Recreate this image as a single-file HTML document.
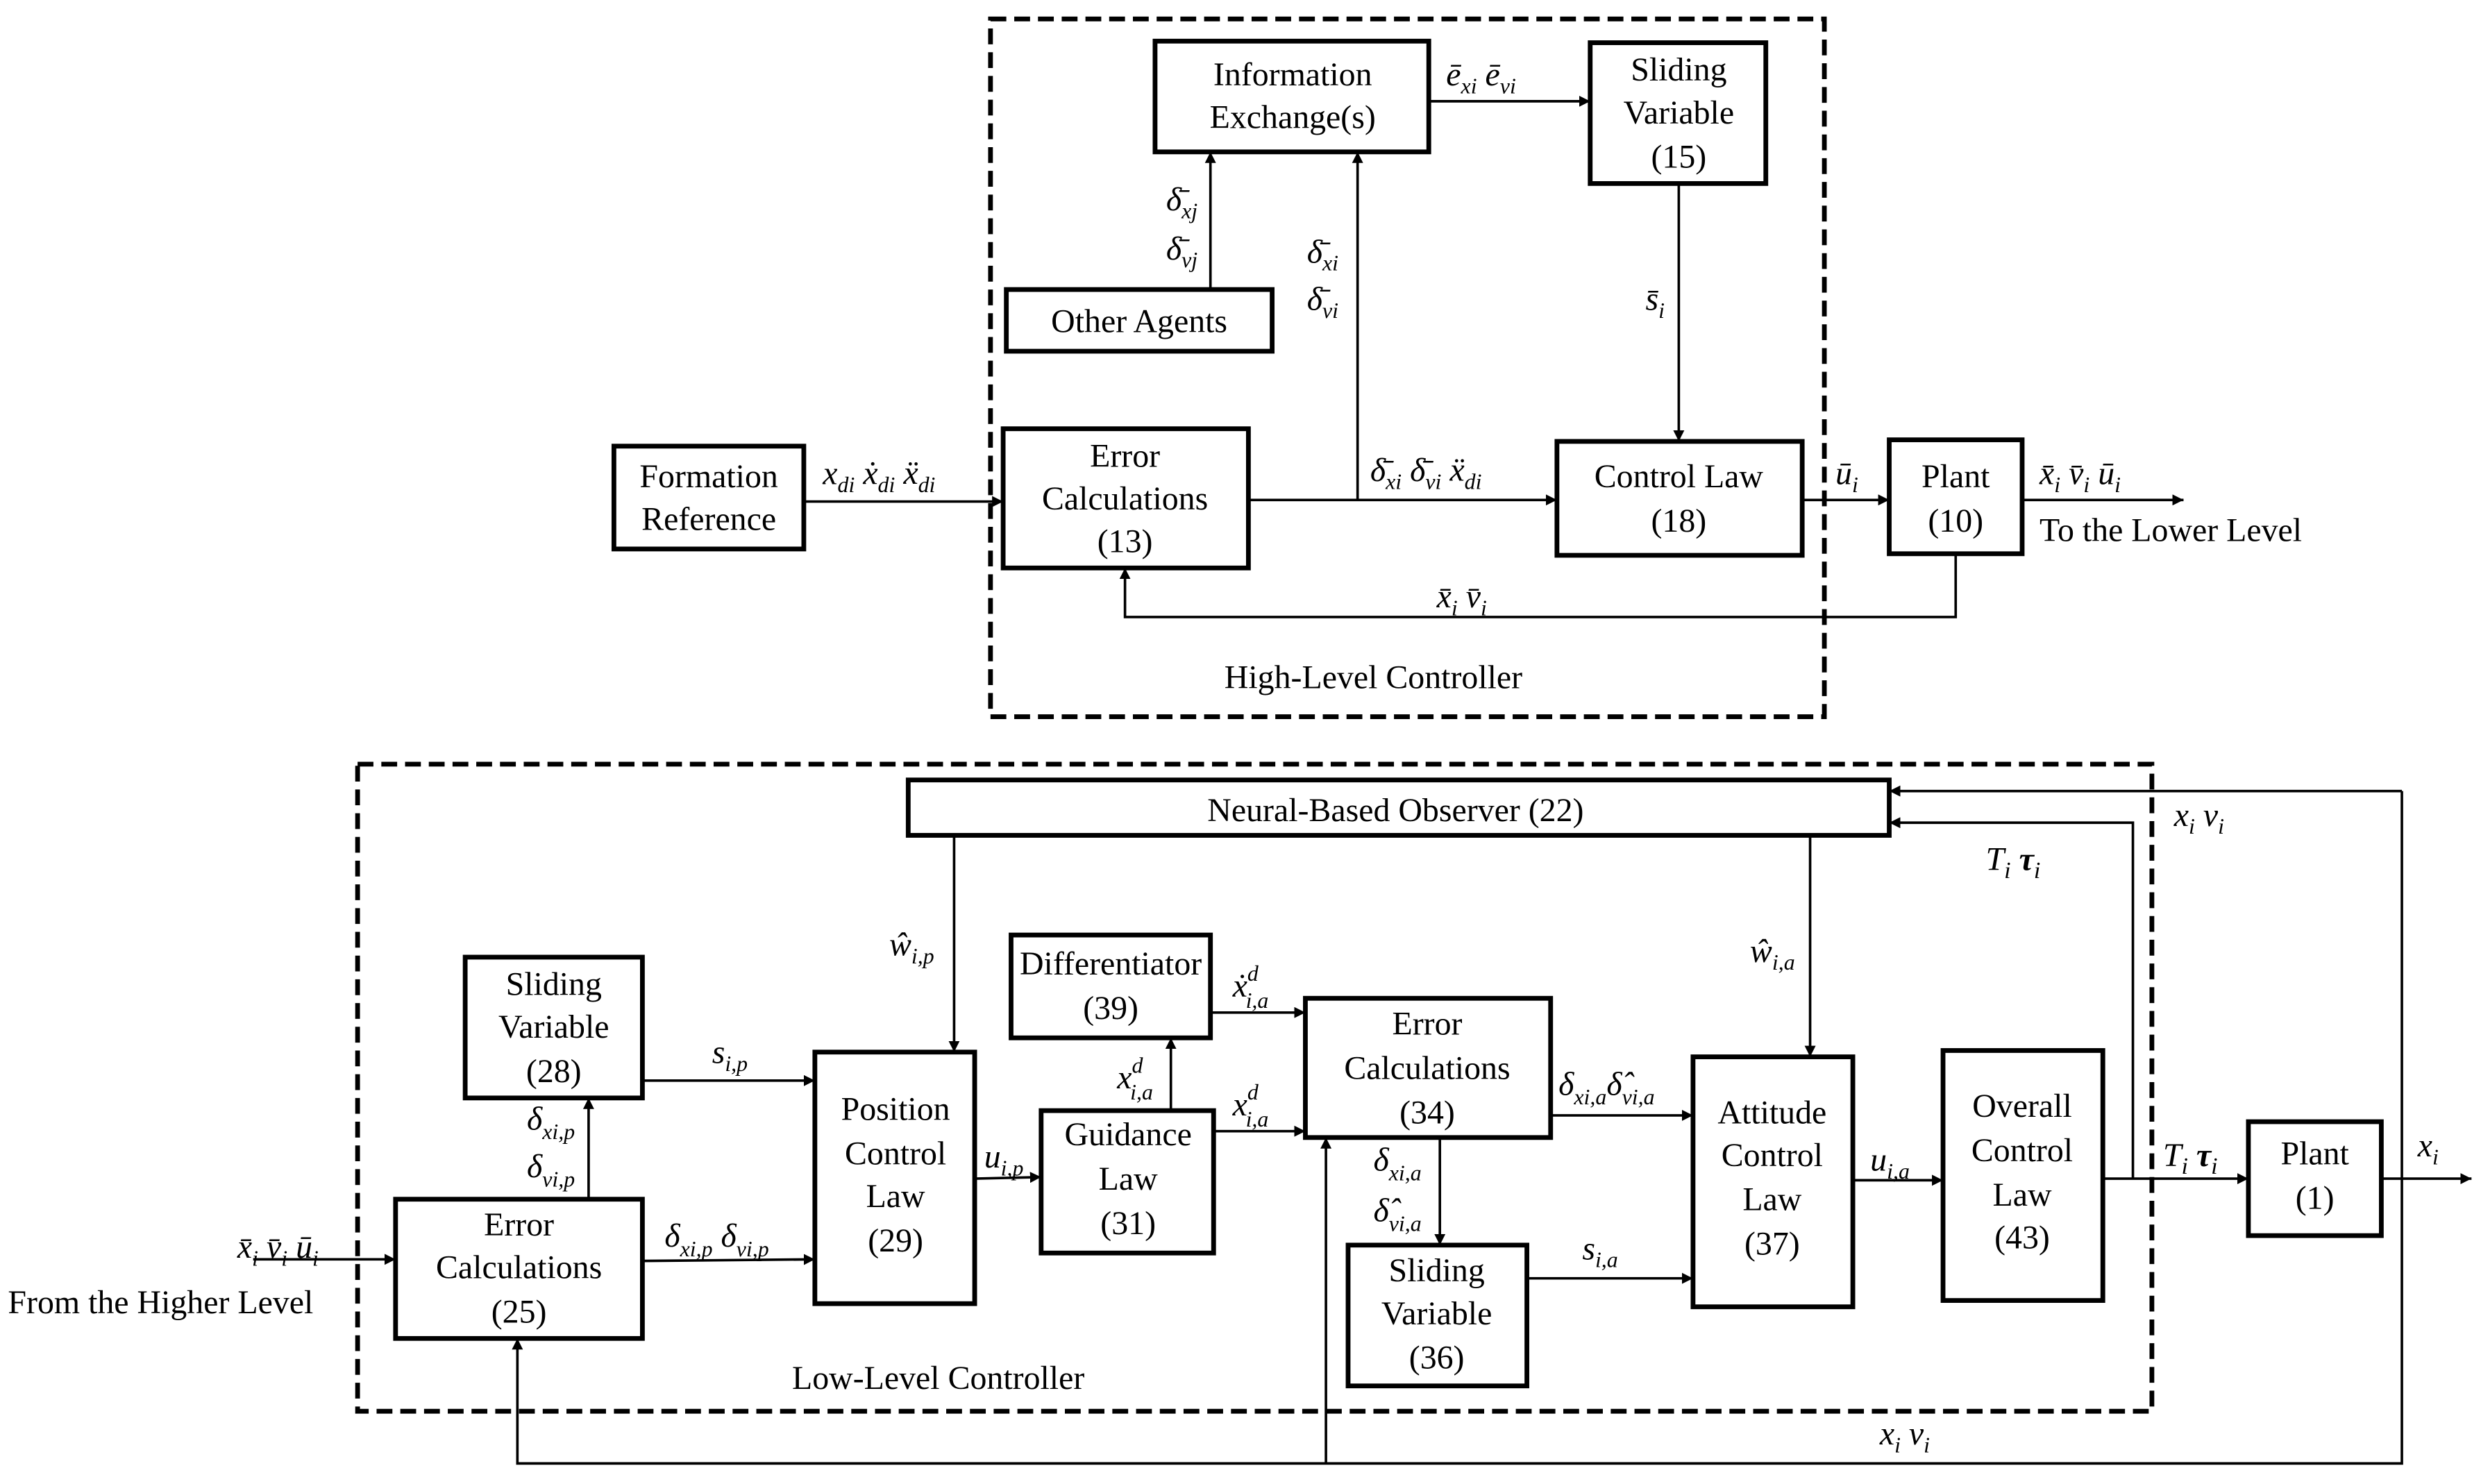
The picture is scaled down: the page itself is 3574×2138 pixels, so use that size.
<!DOCTYPE html>
<html><head><meta charset="utf-8"><style>
html,body{margin:0;padding:0;background:#fff;}
svg{display:block;}
text{font-family:"Liberation Serif",serif;font-size:21px;fill:#000;}
.m{font-style:italic;}
.b{fill:none;stroke:#000;stroke-width:3;}
.l{fill:none;stroke:#000;stroke-width:1.6;}
.d{fill:none;stroke:#000;stroke-width:3;stroke-dasharray:10,5;}
</style></head><body>
<svg width="3574" height="2138" viewBox="0 0 1568 938" preserveAspectRatio="none" xmlns="http://www.w3.org/2000/svg">
<defs><marker id="a" viewBox="0 0 10 10" refX="10" refY="5" markerWidth="7" markerHeight="7" orient="auto" markerUnits="userSpaceOnUse"><path d="M0,0 L10,5 L0,10 z" fill="#000"/></marker>
<marker id="A" viewBox="0 0 10 10" refX="10" refY="5" markerWidth="12" markerHeight="9" orient="auto" markerUnits="userSpaceOnUse"><path d="M0,0 L10,5 L0,10 z" fill="#000"/></marker></defs>

<!-- TOP -->
<rect class="d" x="626" y="12" width="527" height="441"/>
<rect class="b" x="730" y="26" width="173" height="70"/>
<text x="817" y="54" text-anchor="middle">Information</text><text x="817" y="81" text-anchor="middle">Exchange(s)</text>
<rect class="b" x="1005" y="27" width="111" height="89"/>
<text x="1061" y="51" text-anchor="middle">Sliding</text><text x="1061" y="78" text-anchor="middle">Variable</text><text x="1061" y="106" text-anchor="middle">(15)</text>
<rect class="b" x="636" y="183" width="168" height="39"/>
<text x="720" y="210" text-anchor="middle">Other Agents</text>
<rect class="b" x="388" y="282" width="120" height="65"/>
<text x="448" y="308" text-anchor="middle">Formation</text><text x="448" y="335" text-anchor="middle">Reference</text>
<rect class="b" x="634" y="271" width="155" height="88"/>
<text x="711" y="295" text-anchor="middle">Error</text><text x="711" y="322" text-anchor="middle">Calculations</text><text x="711" y="349" text-anchor="middle">(13)</text>
<rect class="b" x="984" y="279" width="155" height="72"/>
<text x="1061" y="308" text-anchor="middle">Control Law</text><text x="1061" y="336" text-anchor="middle">(18)</text>
<rect class="b" x="1194" y="278" width="84" height="72"/>
<text x="1236" y="308" text-anchor="middle">Plant</text><text x="1236" y="336" text-anchor="middle">(10)</text>

<line class="l" x1="508" y1="317" x2="634" y2="317" marker-end="url(#a)"/>
<text x="520" y="306" class="m">x<tspan font-size="14" dy="5">di</tspan><tspan dy="-5"> ẋ</tspan><tspan font-size="14" dy="5">di</tspan><tspan dy="-5"> ẍ</tspan><tspan font-size="14" dy="5">di</tspan></text>
<line class="l" x1="789" y1="316" x2="984" y2="316" marker-end="url(#a)"/>
<line class="l" x1="858" y1="316" x2="858" y2="96" marker-end="url(#a)"/>
<text x="866" y="304" class="m">δ̄<tspan font-size="14" dy="5">xi</tspan><tspan dy="-5"> δ̄</tspan><tspan font-size="14" dy="5">vi</tspan><tspan dy="-5"> ẍ</tspan><tspan font-size="14" dy="5">di</tspan></text>
<text x="826" y="166" class="m">δ̄<tspan font-size="14" dy="5">xi</tspan></text>
<text x="826" y="196" class="m">δ̄<tspan font-size="14" dy="5">vi</tspan></text>
<line class="l" x1="765" y1="183" x2="765" y2="96" marker-end="url(#a)"/>
<text x="737" y="133" class="m">δ̄<tspan font-size="14" dy="5">xj</tspan></text>
<text x="737" y="164" class="m">δ̄<tspan font-size="14" dy="5">vj</tspan></text>
<line class="l" x1="903" y1="64" x2="1005" y2="64" marker-end="url(#a)"/>
<text x="914" y="54" class="m">ē<tspan font-size="14" dy="5">xi</tspan><tspan dy="-5">  ē</tspan><tspan font-size="14" dy="5">vi</tspan></text>
<line class="l" x1="1061" y1="116" x2="1061" y2="279" marker-end="url(#a)"/>
<text x="1040" y="196" class="m">s̄<tspan font-size="14" dy="5">i</tspan></text>
<line class="l" x1="1139" y1="316" x2="1194" y2="316" marker-end="url(#a)"/>
<text x="1160" y="306" class="m">ū<tspan font-size="14" dy="5">i</tspan></text>
<line class="l" x1="1278" y1="316" x2="1380" y2="316" marker-end="url(#a)"/>
<text x="1289" y="306" class="m">x̄<tspan font-size="14" dy="5">i</tspan><tspan dy="-5"> v̄</tspan><tspan font-size="14" dy="5">i</tspan><tspan dy="-5"> ū</tspan><tspan font-size="14" dy="5">i</tspan></text>
<text x="1289" y="342">To the Lower Level</text>
<polyline class="l" points="1236,350 1236,390 711,390 711,359" marker-end="url(#a)"/>
<text x="908" y="384" class="m">x̄<tspan font-size="14" dy="5">i</tspan><tspan dy="-5">  v̄</tspan><tspan font-size="14" dy="5">i</tspan></text>
<text x="868" y="435" text-anchor="middle">High-Level Controller</text>

<!-- BOTTOM -->
<rect class="d" x="226" y="483" width="1134" height="409"/>
<rect class="b" x="574" y="493" width="620" height="35"/>
<text x="882" y="519" text-anchor="middle">Neural-Based Observer (22)</text>
<rect class="b" x="294" y="605" width="112" height="89"/>
<text x="350" y="629" text-anchor="middle">Sliding</text><text x="350" y="656" text-anchor="middle">Variable</text><text x="350" y="684" text-anchor="middle">(28)</text>
<rect class="b" x="250" y="758" width="156" height="88"/>
<text x="328" y="781" text-anchor="middle">Error</text><text x="328" y="808" text-anchor="middle">Calculations</text><text x="328" y="836" text-anchor="middle">(25)</text>
<rect class="b" x="515" y="665" width="101" height="159"/>
<text x="566" y="708" text-anchor="middle">Position</text><text x="566" y="736" text-anchor="middle">Control</text><text x="566" y="763" text-anchor="middle">Law</text><text x="566" y="791" text-anchor="middle">(29)</text>
<rect class="b" x="639" y="591" width="126" height="65"/>
<text x="702" y="616" text-anchor="middle" font-size="19">Differentiator</text><text x="702" y="644" text-anchor="middle">(39)</text>
<rect class="b" x="658" y="702" width="109" height="90"/>
<text x="713" y="724" text-anchor="middle">Guidance</text><text x="713" y="752" text-anchor="middle">Law</text><text x="713" y="780" text-anchor="middle">(31)</text>
<rect class="b" x="825" y="631" width="155" height="88"/>
<text x="902" y="654" text-anchor="middle">Error</text><text x="902" y="682" text-anchor="middle">Calculations</text><text x="902" y="710" text-anchor="middle">(34)</text>
<rect class="b" x="852" y="787" width="113" height="89"/>
<text x="908" y="810" text-anchor="middle">Sliding</text><text x="908" y="837" text-anchor="middle">Variable</text><text x="908" y="865" text-anchor="middle">(36)</text>
<rect class="b" x="1070" y="668" width="101" height="158"/>
<text x="1120" y="710" text-anchor="middle">Attitude</text><text x="1120" y="737" text-anchor="middle">Control</text><text x="1120" y="765" text-anchor="middle">Law</text><text x="1120" y="793" text-anchor="middle">(37)</text>
<rect class="b" x="1228" y="664" width="101" height="158"/>
<text x="1278" y="706" text-anchor="middle">Overall</text><text x="1278" y="734" text-anchor="middle">Control</text><text x="1278" y="762" text-anchor="middle">Law</text><text x="1278" y="789" text-anchor="middle">(43)</text>
<rect class="b" x="1421" y="709" width="84" height="72"/>
<text x="1463" y="736" text-anchor="middle">Plant</text><text x="1463" y="764" text-anchor="middle">(1)</text>

<line class="l" x1="160" y1="796" x2="250" y2="796" marker-end="url(#a)"/>
<text x="150" y="795" class="m">x̄<tspan font-size="14" dy="5">i</tspan><tspan dy="-5"> v̄</tspan><tspan font-size="14" dy="5">i</tspan><tspan dy="-5"> ū</tspan><tspan font-size="14" dy="5">i</tspan></text>
<text x="5" y="830">From the Higher Level</text>
<line class="l" x1="372" y1="758" x2="372" y2="694" marker-end="url(#a)"/>
<text x="333" y="714" class="m">δ<tspan font-size="14" dy="6">xi,p</tspan></text>
<text x="333" y="744" class="m">δ<tspan font-size="14" dy="6">vi,p</tspan></text>
<line class="l" x1="406" y1="683" x2="515" y2="683" marker-end="url(#a)"/>
<text x="450" y="672" class="m">s<tspan font-size="14" dy="5">i,p</tspan></text>
<line class="l" x1="406" y1="797" x2="515" y2="796" marker-end="url(#a)"/>
<text x="420" y="788" class="m">δ<tspan font-size="14" dy="6">xi,p</tspan><tspan dy="-6"> δ</tspan><tspan font-size="14" dy="6">vi,p</tspan></text>
<line class="l" x1="603" y1="528" x2="603" y2="665" marker-end="url(#a)"/>
<text x="562" y="604" class="m">ŵ<tspan font-size="14" dy="5">i,p</tspan></text>
<line class="l" x1="616" y1="745" x2="658" y2="744" marker-end="url(#a)"/>
<text x="622" y="738" class="m">u<tspan font-size="14" dy="5">i,p</tspan></text>
<line class="l" x1="740" y1="702" x2="740" y2="656" marker-end="url(#a)"/>
<text x="706" y="688" class="m">x<tspan font-size="14" dy="-10">d</tspan><tspan font-size="14" dx="-8" dy="17">i,a</tspan></text>
<line class="l" x1="765" y1="640" x2="825" y2="640" marker-end="url(#a)"/>
<text x="779" y="630" class="m">ẋ<tspan font-size="14" dy="-10">d</tspan><tspan font-size="14" dx="-8" dy="17">i,a</tspan></text>
<line class="l" x1="767" y1="715" x2="825" y2="715" marker-end="url(#a)"/>
<text x="779" y="705" class="m">x<tspan font-size="14" dy="-10">d</tspan><tspan font-size="14" dx="-8" dy="17">i,a</tspan></text>
<line class="l" x1="910" y1="719" x2="910" y2="787" marker-end="url(#a)"/>
<text x="868" y="740" class="m">δ<tspan font-size="14" dy="6">xi,a</tspan></text>
<text x="868" y="772" class="m">δ̂<tspan font-size="14" dy="6">vi,a</tspan></text>
<line class="l" x1="980" y1="705" x2="1070" y2="705" marker-end="url(#a)"/>
<text x="985" y="692" class="m">δ<tspan font-size="14" dy="6">xi,a</tspan><tspan dy="-6">δ̂</tspan><tspan font-size="14" dy="6">vi,a</tspan></text>
<line class="l" x1="965" y1="808" x2="1070" y2="808" marker-end="url(#a)"/>
<text x="1000" y="796" class="m">s<tspan font-size="14" dy="5">i,a</tspan></text>
<line class="l" x1="1144" y1="528" x2="1144" y2="668" marker-end="url(#a)"/>
<text x="1106" y="608" class="m">ŵ<tspan font-size="14" dy="5">i,a</tspan></text>
<line class="l" x1="1171" y1="746" x2="1228" y2="746" marker-end="url(#a)"/>
<text x="1182" y="740" class="m">u<tspan font-size="14" dy="5">i,a</tspan></text>
<line class="l" x1="1329" y1="745" x2="1421" y2="745" marker-end="url(#a)"/>
<text x="1367" y="737" class="m" font-size="23">T<tspan font-size="15" dy="5">i</tspan><tspan dy="-5" font-weight="bold"> τ</tspan><tspan font-size="15" dy="5">i</tspan></text>
<line class="l" x1="1505" y1="745" x2="1562" y2="745" marker-end="url(#a)"/>
<text x="1528" y="731" class="m">x<tspan font-size="14" dy="5">i</tspan></text>
<polyline class="l" points="1348,745 1348,520 1194,520" marker-end="url(#a)"/>
<text x="1255" y="550" class="m" font-size="23">T<tspan font-size="15" dy="5">i</tspan><tspan dy="-5" font-weight="bold"> τ</tspan><tspan font-size="15" dy="5">i</tspan></text>
<polyline class="l" points="1518,500 1194,500" marker-end="url(#a)"/>
<text x="1374" y="522" class="m">x<tspan font-size="14" dy="5">i</tspan><tspan dy="-5">   v</tspan><tspan font-size="14" dy="5">i</tspan></text>
<polyline class="l" points="1518,500 1518,925 327,925 327,846" marker-end="url(#a)"/>
<line class="l" x1="838" y1="925" x2="838" y2="719" marker-end="url(#a)"/>
<text x="1188" y="913" class="m">x<tspan font-size="14" dy="5">i</tspan><tspan dy="-5">   v</tspan><tspan font-size="14" dy="5">i</tspan></text>
<text x="593" y="878" text-anchor="middle">Low-Level Controller</text>
</svg>
</body></html>
